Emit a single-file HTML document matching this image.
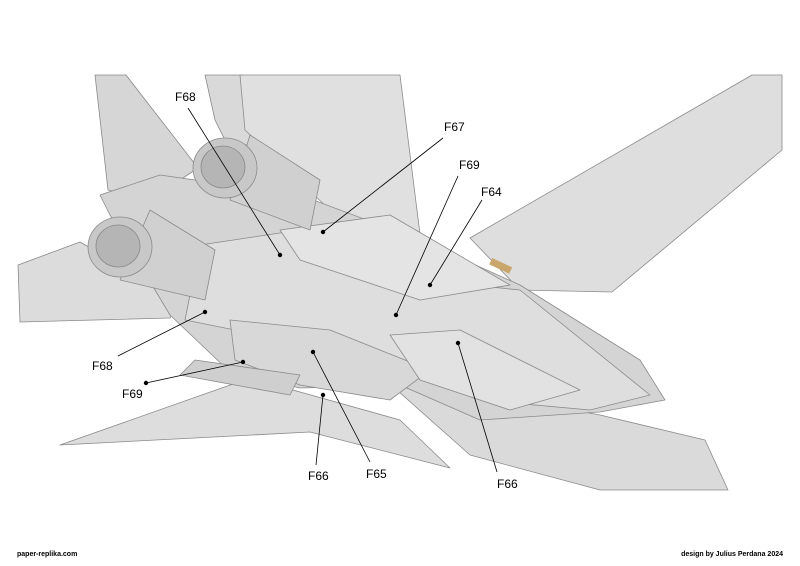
<!DOCTYPE html>
<html><head><meta charset="utf-8"><style>
html,body{margin:0;padding:0;background:#fff;width:800px;height:566px;overflow:hidden}
svg{display:block}
text{font-family:"Liberation Sans",sans-serif}
</style></head><body>
<svg width="800" height="566" viewBox="0 0 800 566" xmlns="http://www.w3.org/2000/svg">
<g stroke="#8a8a8a" stroke-width="0.8" stroke-linejoin="round">
<!-- right wing -->
<polygon points="470,238 752,75 782,75 782,150 612,292 520,290" fill="#dedede"/>
<!-- left fins -->
<polygon points="95,75 126,75 198,168 150,200 108,190" fill="#d6d6d6"/>
<polygon points="205,75 243,75 262,140 230,150 215,120" fill="#d9d9d9"/>
<polygon points="240,75 400,75 422,250 330,210 245,130" fill="#e0e0e0"/>
<!-- left stabilizer -->
<polygon points="18,265 80,242 180,300 170,318 20,322" fill="#dcdcdc"/>
<!-- lower left wing -->
<polygon points="60,445 250,378 400,420 450,468 310,432" fill="#dddddd"/>
<!-- lower right wing -->
<polygon points="380,375 600,415 705,440 728,490 600,490 470,455" fill="#dadada"/>
<!-- fuselage -->
<polygon points="100,195 160,175 300,195 420,240 520,285 640,360 665,400 600,412 480,420 400,385 300,388 230,372 170,315 110,215" fill="#d4d4d4"/>
<polygon points="200,245 300,230 420,280 520,290 650,395 590,410 480,400 400,365 260,335 185,320" fill="#dedede"/>
<polygon points="280,230 390,215 510,285 420,300 300,260" fill="#e4e4e4"/>
<polygon points="230,320 330,330 430,370 390,400 300,385 235,360" fill="#d8d8d8"/>
<polygon points="390,335 460,330 580,390 510,410 420,380" fill="#e2e2e2"/>
<polygon points="195,360 300,375 290,395 180,375" fill="#cfcfcf"/>
<!-- engines -->
<path d="M150,210 L215,250 L205,300 L120,280 Z" fill="#d0d0d0"/>
<ellipse cx="120" cy="247" rx="32" ry="30" fill="#c8c8c8"/>
<ellipse cx="118" cy="246" rx="22" ry="21" fill="#b5b5b5"/>
<path d="M250,135 L320,180 L310,230 L230,200 Z" fill="#d0d0d0"/>
<ellipse cx="225" cy="168" rx="32" ry="30" fill="#c8c8c8"/>
<ellipse cx="223" cy="167" rx="22" ry="21" fill="#b5b5b5"/>
</g>
<rect x="490" y="262" width="22" height="7" fill="#c9a66b" transform="rotate(25 500 265)"/>
<g stroke="#000" stroke-width="0.8" fill="#000">
<line x1="188" y1="108" x2="280" y2="255"/><circle cx="280" cy="255" r="1.8"/>
<line x1="443" y1="138" x2="323" y2="232"/><circle cx="323" cy="232" r="1.8"/>
<line x1="458" y1="176" x2="396" y2="315"/><circle cx="396" cy="315" r="1.8"/>
<line x1="482" y1="200" x2="430" y2="285"/><circle cx="430" cy="285" r="1.8"/>
<line x1="118" y1="356" x2="205" y2="312"/><circle cx="205" cy="312" r="1.8"/>
<line x1="146" y1="383" x2="243" y2="362"/><circle cx="146" cy="383" r="1.8"/><circle cx="243" cy="362" r="1.8"/>
<line x1="316" y1="465" x2="323" y2="395"/><circle cx="323" cy="395" r="1.8"/>
<line x1="370" y1="462" x2="313" y2="352"/><circle cx="313" cy="352" r="1.8"/>
<line x1="497" y1="472" x2="458" y2="343"/><circle cx="458" cy="343" r="1.8"/>
</g>
<g font-size="12" fill="#000">
<text x="175" y="101">F68</text>
<text x="444" y="131">F67</text>
<text x="459" y="169">F69</text>
<text x="481" y="196">F64</text>
<text x="92" y="370">F68</text>
<text x="122" y="398">F69</text>
<text x="308" y="480">F66</text>
<text x="366" y="478">F65</text>
<text x="497" y="488">F66</text>
</g>
<text x="17" y="556" font-size="7" font-weight="bold">paper-replika.com</text>
<text x="783" y="556" font-size="7" font-weight="bold" text-anchor="end">design by Julius Perdana 2024</text>
</svg>
</body></html>
